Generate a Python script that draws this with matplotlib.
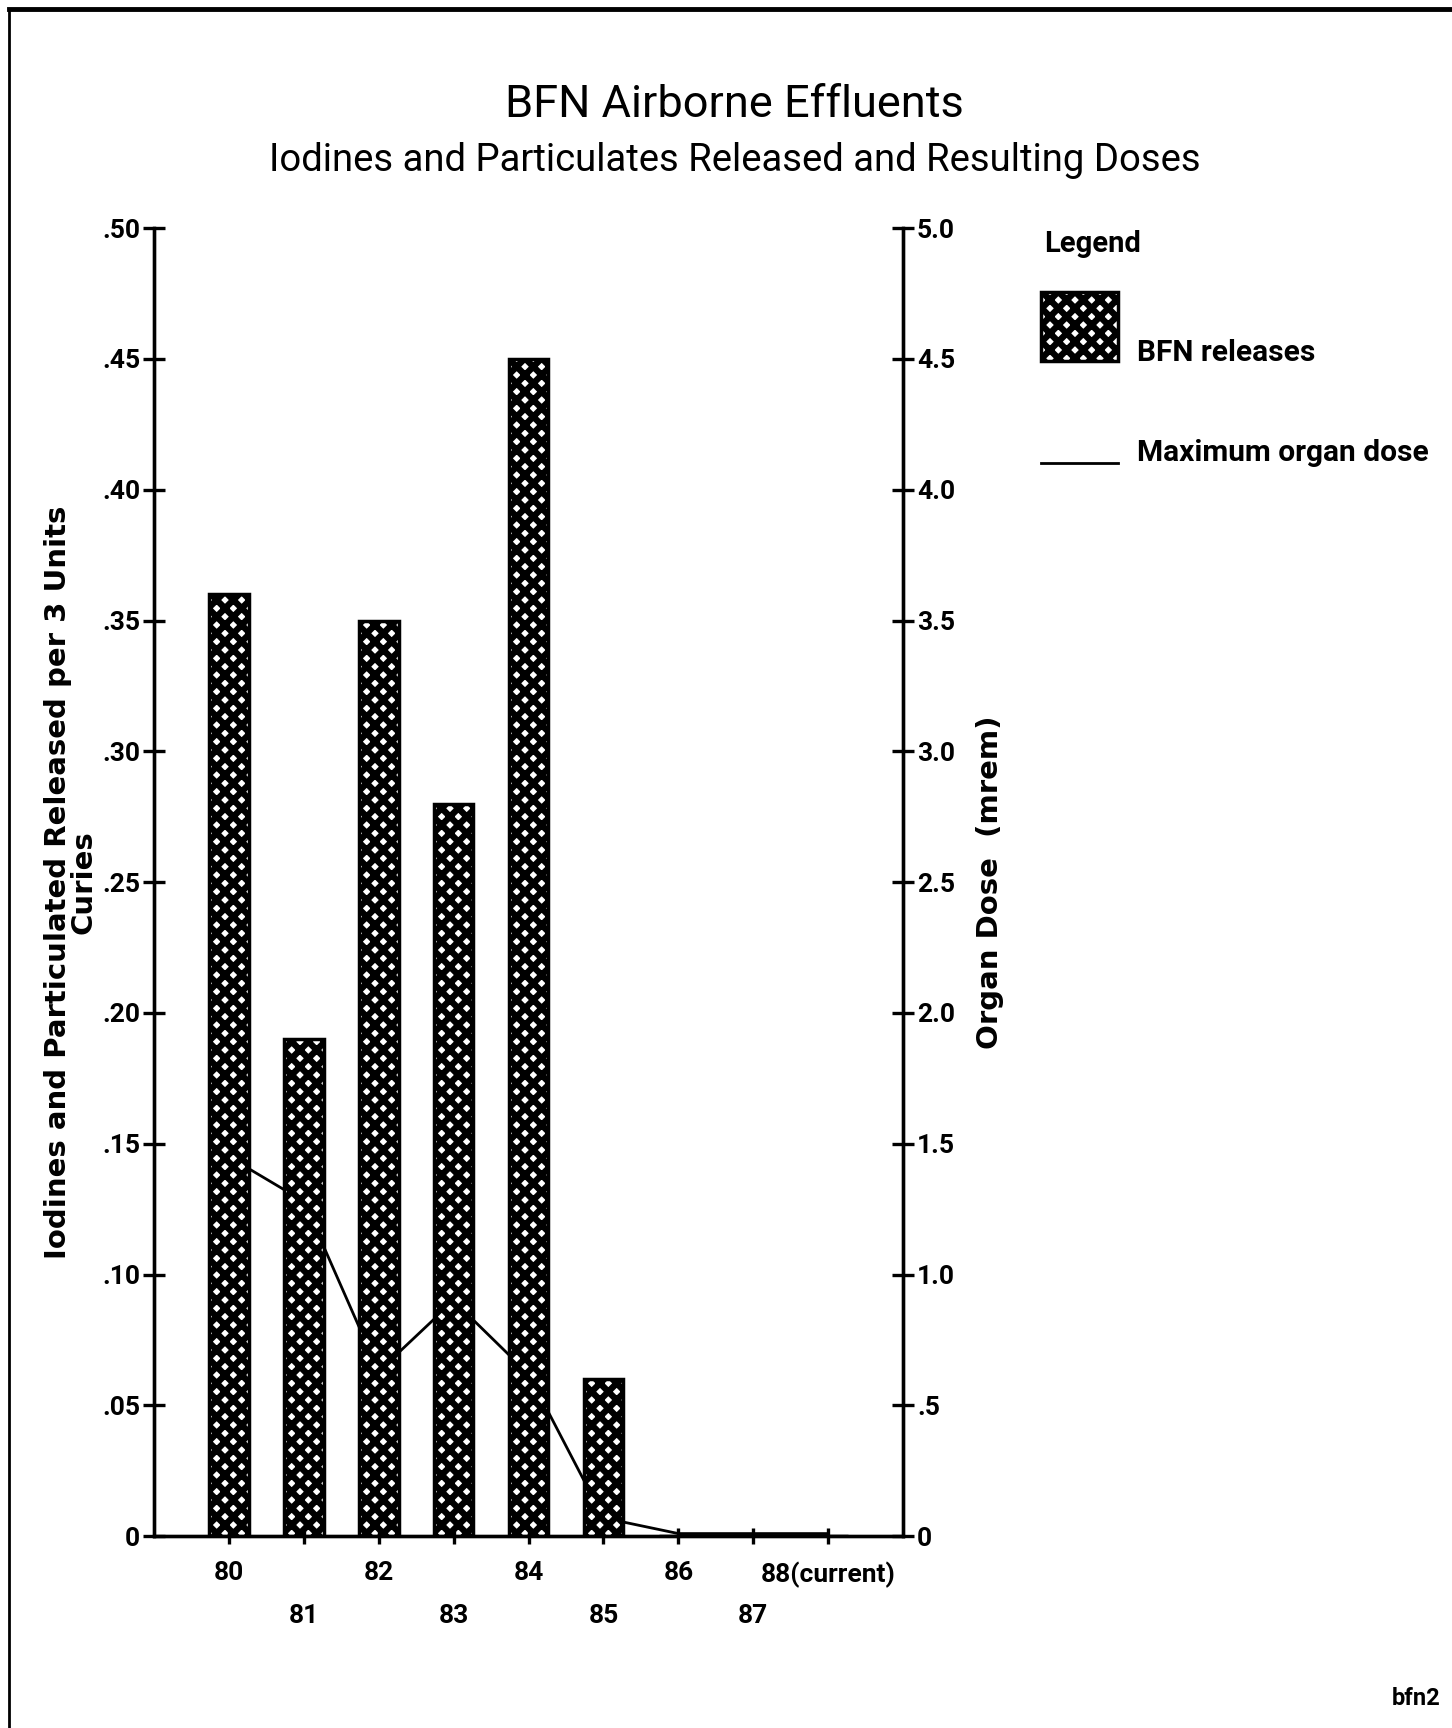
import matplotlib.pyplot as plt
import matplotlib.patches as mpatches
from matplotlib.lines import Line2D
import numpy as np

# data
years = ['80', '81', '82', '83', '84', '85', '86', '87', '88(current)']
releases = [0.36, 0.19, 0.35, 0.28, 0.45, 0.06, 0.0, 0.0, 0.0]     # curies
dose = [1.45, 1.28, 0.63, 0.90, 0.62, 0.07, 0.01, 0.01, 0.01]      # mrem

left_ticks = [0, .05, .10, .15, .20, .25, .30, .35, .40, .45, .50]
left_labels = ['0', '.05', '.10', '.15', '.20', '.25', '.30', '.35', '.40', '.45', '.50']
right_ticks = [0, .5, 1.0, 1.5, 2.0, 2.5, 3.0, 3.5, 4.0, 4.5, 5.0]
right_labels = ['0', '.5', '1.0', '1.5', '2.0', '2.5', '3.0', '3.5', '4.0', '4.5', '5.0']

fam = ['Roboto', 'DejaVu Sans']
wide = ['DejaVu Sans']
plt.rcParams['font.family'] = fam
plt.rcParams['hatch.linewidth'] = 4.6

fig = plt.figure(figsize=(14.52, 17.28), dpi=100)
ax = fig.add_axes([0.106, 0.111, 0.516, 0.757])
ax2 = ax.twinx()

x = np.arange(1, len(years) + 1)
ax.bar(x, releases, width=0.53, facecolor='white', edgecolor='black',
       hatch='xx', linewidth=2.5)
ax2.plot(x, dose, color='black', linewidth=2)

# bars above the dose line
ax.set_zorder(ax2.get_zorder() + 1)
ax.patch.set_visible(False)

ax.set_xlim(0, 10)
ax.set_ylim(0, 0.5)
ax2.set_ylim(0, 5.0)

ax.set_yticks(left_ticks)
ax.set_yticklabels(left_labels)
ax2.set_yticks(right_ticks)
ax2.set_yticklabels(right_labels)

# staggered year labels: even years on the first row, odd on the second
ax.set_xticks(x[::2])
ax.set_xticklabels(years[::2])
ax.set_xticks(x[1::2], minor=True)
ax.set_xticklabels(years[1::2], minor=True)

for a in (ax, ax2):
    a.spines['top'].set_visible(False)
    for s in a.spines.values():
        s.set_linewidth(2.4)
    a.tick_params(width=2.4, length=16, direction='inout', labelsize=19, pad=2)
ax.tick_params(axis='x', which='both', length=12, width=2.4,
               direction='inout', labelsize=19)
ax.tick_params(axis='x', which='major', pad=12)
ax.tick_params(axis='x', which='minor', pad=43)
for t in (ax.get_xticklabels() + ax.get_xticklabels(minor=True)
          + ax.get_yticklabels() + ax2.get_yticklabels()):
    t.set_fontweight('bold')

ax.set_ylabel('Iodines and Particulated Released per 3 Units\nCuries',
              fontsize=21, family=wide, fontweight='bold', labelpad=3,
              linespacing=0.9)
ax2.set_ylabel('Organ Dose  (mrem)', fontsize=21, family=wide,
               fontweight='bold', labelpad=15)

fig.text(0.506, 0.939, 'BFN Airborne Effluents', ha='center', va='center',
         fontsize=32.5)
fig.text(0.506, 0.907, 'Iodines and Particulates Released and Resulting Doses',
         ha='center', va='center', fontsize=27.5)

# legend drawn by hand at the right of the plot
fig.text(0.719, 0.859, 'Legend', fontsize=21, fontweight='bold', va='center')
fig.add_artist(mpatches.Rectangle((0.717, 0.791), 0.053, 0.040,
                                  transform=fig.transFigure, facecolor='white',
                                  edgecolor='black', hatch='xx', linewidth=2.5))
fig.text(0.783, 0.796, 'BFN releases', fontsize=21.5, fontweight='bold',
         va='center')
fig.add_artist(Line2D([0.717, 0.770], [0.732, 0.732], transform=fig.transFigure,
                      color='black', linewidth=2))
fig.text(0.783, 0.738, 'Maximum organ dose', fontsize=21.5, fontweight='bold',
         va='center')

fig.text(0.975, 0.017, 'bfn2', fontsize=17, fontweight='bold',
         ha='center', va='center')

# page frame of the scan
fig.add_artist(Line2D([0.006, 1.0], [0.995, 0.995], transform=fig.transFigure,
                      color='black', linewidth=3.5))
fig.add_artist(Line2D([0.006, 0.006], [0.0, 0.995], transform=fig.transFigure,
                      color='black', linewidth=2))

fig.savefig('out.png', dpi=100)
